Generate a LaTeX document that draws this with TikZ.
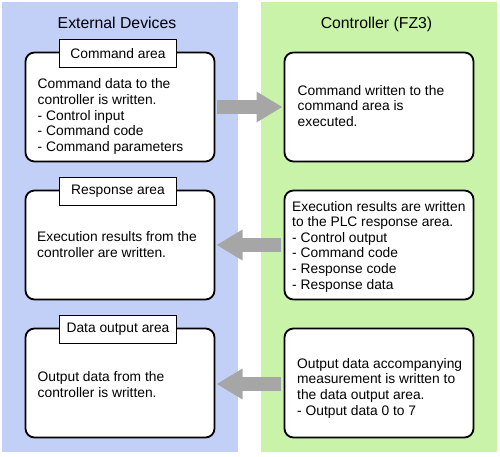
\documentclass[tikz,border=0pt]{standalone}
\usepackage{fontspec}
\setmainfont{Liberation Sans}
\usetikzlibrary{positioning,arrows.meta}

\definecolor{extblue}{RGB}{194,207,247}
\definecolor{ctlgreen}{RGB}{200,243,168}
\definecolor{flowgray}{RGB}{166,166,166}

\tikzset{
	area/.style={draw, line width=1.8pt, rounded corners=9pt, fill=white, minimum width=189pt, minimum height=109pt, outer sep=0pt},
	tag/.style={draw, line width=1.8pt, fill=white, minimum width=117pt, minimum height=28pt, inner sep=0pt, font=\fontsize{13.8}{15.6}\selectfont},
	txt/.style={align=left, inner sep=0pt, anchor=base west, font=\fontsize{13.8}{15.6}\selectfont},
	title/.style={anchor=base, inner sep=0pt, font=\fontsize{15.8}{18}\selectfont},
	flow/.style={draw=flowgray, line width=13.5pt, -{Triangle[length=26pt,width=29pt]}},
}

\begin{document}
\begin{tikzpicture}[x=1pt,y=1pt]
	\useasboundingbox (0,0) rectangle (500,456);
	
	%% PANELS
	\fill[extblue] (2,4) rectangle (238,454);
	\fill[ctlgreen] (261,4) rectangle (497,454);
	
	%% EXTERNAL DEVICES
	\node[area](cmd_box) at (120,349){};
	\node[area, below=29pt of cmd_box](resp_box){};
	\node[area, below=29pt of resp_box](dout_box){};
	
	\node[title](ext_title) at ([xshift=-3pt, yshift=24pt]cmd_box.north){External Devices};
	
	\node[tag](cmd_tag) at ([xshift=-2pt, yshift=-1pt]cmd_box.north){Command area};
	\node[tag](resp_tag) at ([xshift=-2pt, yshift=-1pt]resp_box.north){Response area};
	\node[tag](dout_tag) at ([xshift=-2pt, yshift=-1pt]dout_box.north){Data output area};
	
	% base of a text = its last line
	\node[txt](cmd_txt) at ([xshift=12pt, yshift=-44.4pt]cmd_box.west){Command data to the\\controller is written.\\- Control input\\- Command code\\- Command parameters};
	\node[txt](resp_txt) at ([xshift=11.5pt, yshift=-12.1pt]resp_box.west){Execution results from the\\controller are written.};
	\node[txt](dout_txt) at ([xshift=12pt, yshift=-14.1pt]dout_box.west){Output data from the\\controller is written.};
	
	% CONTROLLER
	\node[area, right=70pt of cmd_box](exec_box){};
	\node[area, below=29pt of exec_box](result_box){};
	\node[area, below=29pt of result_box](meas_box){};
	
	\node[title](ctl_title) at ([xshift=-2.5pt, yshift=24pt]exec_box.north){Controller (FZ3)};
	
	\node[txt](exec_txt) at ([xshift=13pt, yshift=-19.2pt]exec_box.west){Command written to the\\command area is\\executed.};
	\node[txt](result_txt) at ([xshift=7.5pt, yshift=-44pt]result_box.west){Execution results are written\\to the PLC response area.\\- Control output\\- Command code\\- Response code\\- Response data};
	\node[txt](meas_txt) at ([xshift=12.5pt, yshift=-32.1pt]meas_box.west){Output data accompanying\\measurement is written to\\the data output area.\\- Output data 0 to 7};
	
	%% FLOW
	\draw[flow] ([xshift=2pt]cmd_box.east) -- ([xshift=-2pt]exec_box.west);
	\draw[flow] ([xshift=-3.5pt]result_box.west) -- ([xshift=2pt]resp_box.east);
	\draw[flow] ([xshift=-3.5pt, yshift=-1pt]meas_box.west) -- ([xshift=2pt, yshift=-1pt]dout_box.east);
	
\end{tikzpicture}
\end{document}
